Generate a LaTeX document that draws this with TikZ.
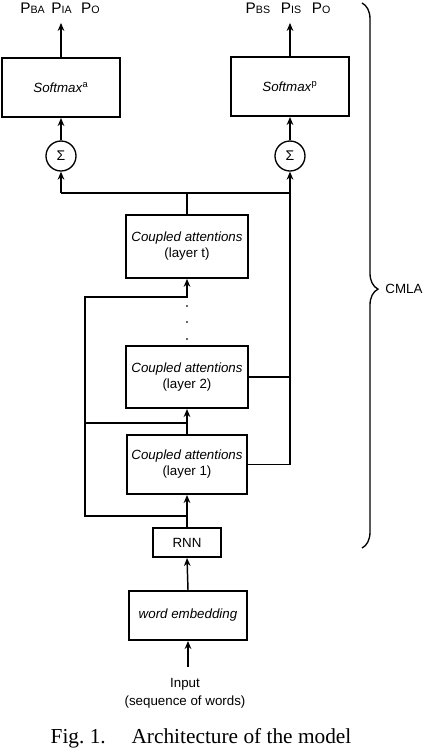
\documentclass[tikz,border=0pt]{standalone}
\usepackage{fontspec}
\setmainfont{Liberation Sans}
\newfontfamily\capfont{Liberation Serif}
\usetikzlibrary{arrows.meta,decorations.pathreplacing}
\newcommand{\plab}[1]{P{\fontsize{8}{9}\selectfont #1}}

\begin{document}
\begin{tikzpicture}[x=.75pt,y=-.75pt,font=\fontsize{10}{12}\selectfont,
  box/.style={draw,line width=1.5pt,fill=white,align=center,inner sep=1pt},
  sumnode/.style={draw,circle,line width=1pt,minimum size=22.5pt,inner sep=0pt,font=\fontsize{10.5}{12}\selectfont},
  flow/.style={line width=1.1pt},
  arr/.style={flow,-{Stealth[length=6pt,width=5pt]}}]
  \useasboundingbox (0,0) rectangle (424,754);
  % output side
  \node[box,minimum width=88.5pt,minimum height=44.25pt] (sma) at (61,87.5) {\textit{Softmax}\textsuperscript{a}};
  \node[box,minimum width=88pt,minimum height=44.25pt] (smp) at (290,86.5) {\textit{Softmax}\textsuperscript{p}};
  \node[sumnode] (sa) at (61,156) {Σ};
  \node[sumnode] (sp) at (290,156) {Σ};
  \node[inner sep=0pt,font=\fontsize{11.5}{12}\selectfont] (la) at (60,8) {\plab{BA}\hspace{5pt}\plab{IA}\hspace{7pt}\plab{O}};
  \node[inner sep=0pt,font=\fontsize{11.5}{12}\selectfont] (lp) at (288,8) {\plab{BS}\hspace{8pt}\plab{IS}\hspace{8pt}\plab{O}};
  % layers
  \node[box,minimum width=91.5pt,minimum height=47pt] (lt) at (187,246.5) {\textit{Coupled attentions}\\(layer t)};
  \node[box,minimum width=91.5pt,minimum height=46.5pt] (l2) at (187,377) {\textit{Coupled attentions}\\(layer 2)};
  \node[box,minimum width=90pt,minimum height=44.25pt] (l1) at (187,464.5) {\textit{Coupled attentions}\\(layer 1)};
  \node[box,minimum width=51pt,minimum height=21.75pt] (rnn) at (187,542.5) {RNN};
  \node[box,minimum width=88.5pt,minimum height=36.75pt] (emb) at (188,615.5) {\textit{word embedding}};
  \node[align=center,font=\fontsize{10}{13.5}\selectfont] (inp) at (185,693.5) {Input\\(sequence of words)};
  \foreach \y in {306,322,339}
    \fill[black!80] (187,\y) circle (0.8pt);
  % joints
  \coordinate (j1) at (187,516);
  \coordinate (j2) at (187,423);
  \coordinate (skip) at (85,297);
  \coordinate (busl) at (61,193);
  \coordinate (busr) at (290,193);
  \coordinate (inpt) at (188,667);
  % connectors
  \draw[arr] (inpt) -- (emb.south);
  \draw[arr] (emb.north) -- (rnn.south);
  \draw[flow] (rnn.north) -- (j1);
  \draw[arr] (j1) -- (l1.south);
  \draw[arr] (j1) -| (skip) -| (lt.south);
  \draw[flow] (l1.north) -- (j2);
  \draw[arr] (j2) -- (l2.south);
  \draw[flow] (j2) -- (j2 -| skip);
  \draw[flow] (l1.east) -| (busr);
  \draw[flow] (l2.east) -- (l2.east -| busr);
  \draw[flow] (lt.north) -- (lt.north |- busl);
  \draw[flow] (busl) -- (busr);
  \draw[arr] (busl) -- (sa.south);
  \draw[arr] (busr) -- (sp.south);
  \draw[arr] (sa.north) -- (sma.south);
  \draw[arr] (sp.north) -- (smp.south);
  \draw[arr,shorten >=7pt] (sma.north) -- (la.south -| sma.north);
  \draw[arr,shorten >=7pt] (smp.north) -- (lp.south -| smp.north);
  % brace
  \coordinate (bt) at (362,3);
  \coordinate (bb) at (362,548);
  \draw[line width=1pt,decorate,decoration={brace,amplitude=12pt,aspect=0.525}] (bt) -- (bb);
  \node[inner sep=0pt] (cmla) at (404,289) {CMLA};
  \node[font=\capfont\fontsize{16}{18}\selectfont] (cap) at (201,738) {Fig.~1.\hspace{14pt} Architecture of the model};
\end{tikzpicture}
\end{document}
